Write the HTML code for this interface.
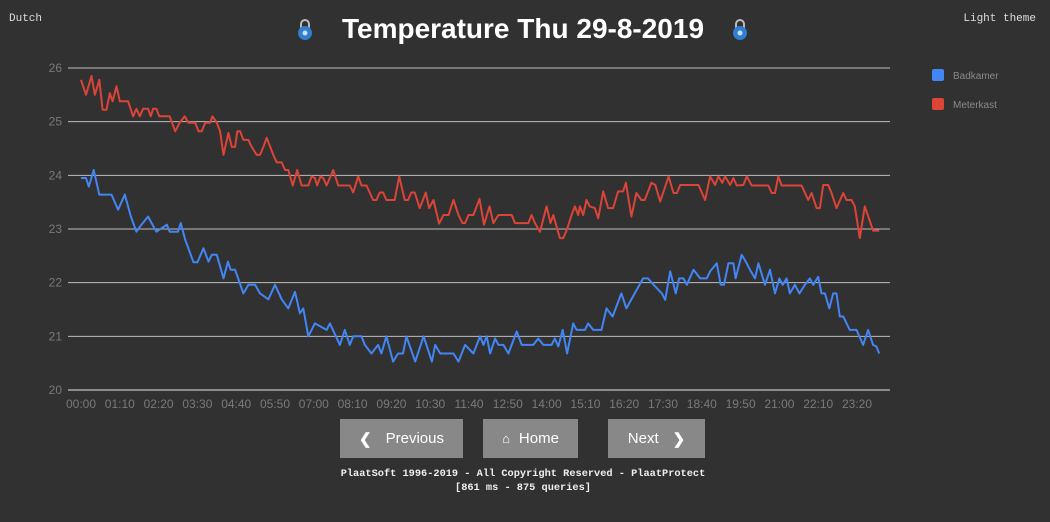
<!DOCTYPE html>
<html><head><meta charset="utf-8">
<style>
html,body{margin:0;padding:0;background:#313131;width:1050px;height:522px;overflow:hidden;font-family:"Liberation Sans",sans-serif}
.mono{font-family:"Liberation Mono",monospace}
.btn{position:absolute;top:419px;height:39px;background:#888;color:#fff;font-size:15px;display:flex;align-items:center;justify-content:center;cursor:pointer}
</style></head><body>
<div class="mono" style="position:absolute;left:9px;top:13px;color:#ddd;font-size:11px">Dutch</div>
<div class="mono" style="position:absolute;right:14px;top:13px;color:#ddd;font-size:11px">Light theme</div>
<div style="position:absolute;left:0;width:1046px;top:13px;text-align:center;color:#fff;font-weight:bold;font-size:28px">Temperature Thu 29-8-2019</div>
<svg style="position:absolute;left:297px;top:17px" width="16" height="24" viewBox="0 0 16 24"><path d="M4 11V7a4 4 0 0 1 8 0v4" fill="none" stroke="#bbb" stroke-width="2"/><circle cx="8" cy="16" r="7" fill="#2f7fd0"/><circle cx="8" cy="16" r="2.5" fill="#cde"/></svg>
<svg style="position:absolute;left:732px;top:17px" width="16" height="24" viewBox="0 0 16 24"><path d="M4 11V7a4 4 0 0 1 8 0v4" fill="none" stroke="#bbb" stroke-width="2"/><circle cx="8" cy="16" r="7" fill="#2f7fd0"/><circle cx="8" cy="16" r="2.5" fill="#cde"/></svg>
<svg id="chart" style="position:absolute;left:0;top:0" width="1050" height="420"></svg>
<div class="btn" style="left:340px;width:123px"><span style="font-weight:bold;margin-right:14px">&#10094;</span>Previous</div>
<div class="btn" style="left:483px;width:95px"><span style="font-size:13px;margin-right:9px">&#8962;</span>Home</div>
<div class="btn" style="left:608px;width:97px">Next<span style="font-weight:bold;margin-left:14px">&#10095;</span></div>
<div class="mono" style="position:absolute;left:0;width:1046px;top:467px;text-align:center;color:#eee;font-size:10.3px;font-weight:bold;line-height:14px">PlaatSoft 1996-2019 - All Copyright Reserved - PlaatProtect<br>[861 ms - 875 queries]</div>
<script>
const yTicks=[20,21,22,23,24,25,26];
const xTickLabels=["00:00","01:10","02:20","03:30","04:40","05:50","07:00","08:10","09:20","10:30","11:40","12:50","14:00","15:10","16:20","17:30","18:40","19:50","21:00","22:10","23:20"];
const seriesNames=["Badkamer","Meterkast"];
const badkamerTimes=[0,9,14,23,33,55,67,79,90,100,109,121,136,155,160,175,180,188,203,210,221,230,236,245,257,265,270,278,293,302,314,323,338,350,362,374,386,395,401,410,422,443,449,467,476,485,491,506,512,524,536,542,551,563,572,581,587,603,618,633,639,648,672,681,693,708,720,726,732,738,747,753,762,771,786,795,816,825,834,849,855,861,869,877,888,894,909,915,924,939,948,959,975,984,999,1014,1023,1033,1048,1054,1063,1073,1079,1087,1093,1105,1117,1129,1135,1147,1154,1160,1168,1177,1181,1192,1201,1207,1216,1222,1234,1243,1252,1260,1266,1273,1279,1288,1296,1306,1315,1321,1330,1336,1342,1350,1357,1363,1369,1375,1387,1399,1411,1420,1429,1435,1440];
const badkamerValues=[23.95,23.95,23.79,24.10,23.64,23.64,23.36,23.64,23.23,22.95,23.08,23.23,22.95,23.08,22.95,22.95,23.11,22.80,22.38,22.38,22.64,22.39,22.52,22.52,22.08,22.39,22.24,22.24,21.80,21.96,21.96,21.80,21.69,21.96,21.69,21.52,21.83,21.43,21.52,21.00,21.24,21.12,21.24,20.84,21.12,20.84,21.00,21.00,20.84,20.68,20.84,20.68,21.00,20.53,20.68,20.68,21.00,20.53,21.00,20.53,20.84,20.68,20.68,20.53,20.84,20.68,21.00,20.84,21.00,20.68,20.96,20.84,20.84,20.68,21.09,20.84,20.84,20.96,20.84,20.84,20.96,20.81,21.12,20.68,21.24,21.12,21.12,21.24,21.12,21.12,21.52,21.37,21.80,21.52,21.80,22.08,22.08,21.96,21.80,21.68,22.21,21.80,22.08,22.08,21.96,22.24,22.08,22.08,22.21,22.36,21.96,21.96,22.36,22.36,22.08,22.52,22.36,22.24,22.08,22.36,21.96,22.24,21.80,22.08,21.96,22.08,21.80,21.96,21.80,21.96,22.08,21.96,22.11,21.80,21.80,21.52,21.80,21.80,21.37,21.37,21.12,21.12,20.84,21.12,20.84,20.81,20.68];
const meterkastTimes=[0,9,19,25,33,39,46,52,57,64,70,85,94,100,106,112,121,126,130,136,141,160,170,178,187,194,206,212,218,224,233,237,245,251,257,266,272,278,282,287,293,302,308,317,323,329,335,347,353,362,368,374,382,390,398,410,416,422,426,432,437,443,455,464,485,491,500,506,515,527,533,539,545,551,566,574,584,590,596,602,611,622,628,636,646,654,663,672,681,688,693,699,708,719,727,737,744,753,777,783,807,813,819,828,840,847,852,864,870,876,885,891,897,900,906,912,918,927,933,942,951,960,969,978,983,993,1002,1011,1017,1029,1036,1045,1060,1069,1075,1081,1114,1126,1135,1144,1150,1157,1162,1171,1177,1183,1195,1201,1210,1240,1246,1252,1258,1264,1300,1312,1318,1327,1333,1339,1348,1354,1363,1375,1381,1390,1396,1405,1414,1429,1440];
const meterkastValues=[25.78,25.50,25.85,25.50,25.78,25.22,25.22,25.53,25.38,25.66,25.38,25.38,25.10,25.24,25.10,25.24,25.24,25.10,25.24,25.24,25.10,25.10,24.82,24.98,25.10,24.98,24.98,24.82,24.82,24.98,24.98,25.10,24.98,24.82,24.38,24.79,24.53,24.53,24.82,24.82,24.66,24.66,24.53,24.38,24.38,24.53,24.70,24.38,24.24,24.24,24.10,24.10,23.81,24.10,23.81,23.81,23.98,23.95,23.81,23.98,23.95,23.81,24.10,23.81,23.81,23.68,23.98,23.81,23.81,23.54,23.54,23.68,23.68,23.54,23.54,23.98,23.54,23.54,23.68,23.68,23.39,23.68,23.39,23.54,23.10,23.26,23.26,23.54,23.26,23.11,23.11,23.26,23.26,23.56,23.08,23.42,23.11,23.26,23.26,23.11,23.11,23.26,23.11,22.95,23.42,23.11,23.26,22.83,22.83,22.97,23.26,23.42,23.26,23.42,23.26,23.54,23.42,23.39,23.20,23.70,23.39,23.39,23.70,23.70,23.86,23.23,23.67,23.54,23.54,23.86,23.82,23.51,23.98,23.67,23.67,23.82,23.82,23.54,23.98,23.82,23.98,23.86,23.98,23.82,23.95,23.81,23.82,23.98,23.81,23.81,23.67,23.67,23.98,23.81,23.81,23.54,23.67,23.39,23.39,23.82,23.82,23.67,23.39,23.67,23.54,23.54,23.42,22.83,23.42,22.97,22.97];
const seriesColors=["#4285f4","#db4437"];

const NS="http://www.w3.org/2000/svg";
const svg=document.getElementById('chart');
const X0=81,PX_PER_MIN=0.5543,Y0=390,PX_PER_DEG=53.67,YMIN=20;
function xs(m){return X0+m*PX_PER_MIN;}
function ys(v){return Y0-(v-YMIN)*PX_PER_DEG;}
function mk(tag,attrs){const e=document.createElementNS(NS,tag);for(const k in attrs)e.setAttribute(k,attrs[k]);svg.appendChild(e);return e;}
yTicks.forEach(t=>{
  const l=mk('line',{x1:68,x2:890,y1:ys(t),y2:ys(t),stroke:t===20?'#e6e6e6':'#bdbdbd','stroke-width':1});
  
  
  const tx=mk('text',{x:62,y:ys(t)+4,'text-anchor':'end',fill:'#7a7a7a','font-size':12,'font-family':'Liberation Sans, sans-serif'});
  tx.textContent=t;
  
  
});
xTickLabels.forEach((s,i)=>{
  const p=s.split(':');const m=(+p[0])*60+(+p[1]);
  const tx=mk('text',{x:xs(m),y:408,'text-anchor':'middle',fill:'#7a7a7a','font-size':12,'font-family':'Liberation Sans, sans-serif'});
  tx.textContent=s;
  
  
});
function drawLine(times,vals,color,name){
  const pts=times.map((t,i)=>xs(t).toFixed(1)+','+ys(vals[i]).toFixed(1)).join(' ');
  const pl=mk('polyline',{points:pts,fill:'none',stroke:color,'stroke-width':2,'stroke-linejoin':'round'});
  
  
}
drawLine(badkamerTimes,badkamerValues,seriesColors[0],'badkamer-line');
drawLine(meterkastTimes,meterkastValues,seriesColors[1],'meterkast-line');
seriesNames.forEach((n,i)=>{
  const y=69+i*29;
  const r=mk('rect',{x:932,y:y,width:12,height:12,rx:2,fill:seriesColors[i]});
  
  
  const t=mk('text',{x:953,y:y+10,fill:'#8a8a8a','font-size':10,'font-family':'Liberation Sans, sans-serif'});
  t.textContent=n;
  
  
});
</script>
</body></html>
